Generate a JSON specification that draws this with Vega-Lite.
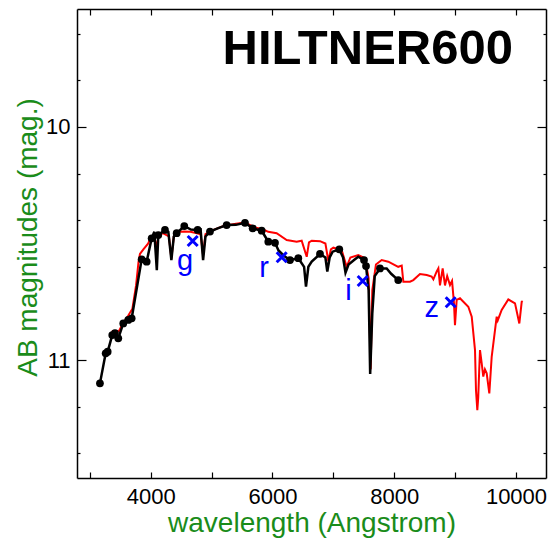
{
  "$schema": "https://vega.github.io/schema/vega-lite/v6.json",
  "width": 469,
  "height": 469,
  "autosize": {"type": "none"},
  "padding": {"left": 77, "top": 9, "right": 6, "bottom": 64},
  "background": "white",
  "title": {
    "text": "HILTNER600",
    "orient": "top",
    "anchor": "end",
    "frame": "group",
    "font": "Liberation Sans",
    "fontSize": 49,
    "fontWeight": "bold",
    "color": "black",
    "baseline": "alphabetic",
    "offset": -56,
    "dx": -33,
    "dy": 49
  },
  "config": {
    "view": {"stroke": null},
    "axis": {
      "labelFont": "Liberation Sans",
      "titleFont": "Liberation Sans",
      "grid": false,
      "domainColor": "black",
      "tickColor": "black",
      "labelColor": "black",
      "domainWidth": 1.5,
      "tickWidth": 1.2,
      "labelFlush": false,
      "labelOverlap": false
    }
  },
  "datasets": {
    "model": [
      {"wavelength": 3360, "mag": 10.875}, {"wavelength": 3420, "mag": 10.88}, {"wavelength": 3480, "mag": 10.875},
      {"wavelength": 3550, "mag": 10.84}, {"wavelength": 3630, "mag": 10.81}, {"wavelength": 3700, "mag": 10.78},
      {"wavelength": 3760, "mag": 10.68}, {"wavelength": 3800, "mag": 10.58}, {"wavelength": 3824, "mag": 10.545},
      {"wavelength": 3880, "mag": 10.525}, {"wavelength": 3960, "mag": 10.5}, {"wavelength": 4000, "mag": 10.475},
      {"wavelength": 4060, "mag": 10.47}, {"wavelength": 4100, "mag": 10.52}, {"wavelength": 4130, "mag": 10.465},
      {"wavelength": 4200, "mag": 10.455}, {"wavelength": 4300, "mag": 10.47}, {"wavelength": 4340, "mag": 10.565},
      {"wavelength": 4380, "mag": 10.47}, {"wavelength": 4450, "mag": 10.45}, {"wavelength": 4550, "mag": 10.448},
      {"wavelength": 4650, "mag": 10.45}, {"wavelength": 4760, "mag": 10.456}, {"wavelength": 4820, "mag": 10.46},
      {"wavelength": 4861, "mag": 10.55}, {"wavelength": 4900, "mag": 10.46}, {"wavelength": 5000, "mag": 10.445},
      {"wavelength": 5200, "mag": 10.425}, {"wavelength": 5400, "mag": 10.415}, {"wavelength": 5550, "mag": 10.41},
      {"wavelength": 5700, "mag": 10.43}, {"wavelength": 5850, "mag": 10.44}, {"wavelength": 5932, "mag": 10.45},
      {"wavelength": 6069, "mag": 10.456}, {"wavelength": 6234, "mag": 10.485}, {"wavelength": 6398, "mag": 10.492},
      {"wavelength": 6480, "mag": 10.488}, {"wavelength": 6563, "mag": 10.557}, {"wavelength": 6600, "mag": 10.495},
      {"wavelength": 6645, "mag": 10.488}, {"wavelength": 6781, "mag": 10.49}, {"wavelength": 6870, "mag": 10.5},
      {"wavelength": 6918, "mag": 10.575}, {"wavelength": 6960, "mag": 10.525}, {"wavelength": 7000, "mag": 10.518},
      {"wavelength": 7137, "mag": 10.528}, {"wavelength": 7219, "mag": 10.6}, {"wavelength": 7280, "mag": 10.56},
      {"wavelength": 7410, "mag": 10.55}, {"wavelength": 7520, "mag": 10.563}, {"wavelength": 7580, "mag": 10.65},
      {"wavelength": 7613, "mag": 11.04}, {"wavelength": 7640, "mag": 10.7}, {"wavelength": 7700, "mag": 10.59},
      {"wavelength": 7794, "mag": 10.571}, {"wavelength": 7903, "mag": 10.578}, {"wavelength": 8066, "mag": 10.6},
      {"wavelength": 8123, "mag": 10.595}, {"wavelength": 8150, "mag": 10.664}, {"wavelength": 8205, "mag": 10.664},
      {"wavelength": 8259, "mag": 10.664}, {"wavelength": 8314, "mag": 10.657}, {"wavelength": 8423, "mag": 10.631},
      {"wavelength": 8534, "mag": 10.635}, {"wavelength": 8615, "mag": 10.642}, {"wavelength": 8643, "mag": 10.654},
      {"wavelength": 8698, "mag": 10.62}, {"wavelength": 8725, "mag": 10.607}, {"wavelength": 8752, "mag": 10.68},
      {"wavelength": 8796, "mag": 10.607}, {"wavelength": 8834, "mag": 10.68}, {"wavelength": 8870, "mag": 10.64},
      {"wavelength": 8916, "mag": 10.678}, {"wavelength": 8950, "mag": 10.66}, {"wavelength": 8982, "mag": 10.757},
      {"wavelength": 8998, "mag": 10.85}, {"wavelength": 9026, "mag": 10.742}, {"wavelength": 9080, "mag": 10.735},
      {"wavelength": 9217, "mag": 10.771}, {"wavelength": 9273, "mag": 10.814}, {"wavelength": 9327, "mag": 10.957},
      {"wavelength": 9343, "mag": 11.129}, {"wavelength": 9365, "mag": 11.215}, {"wavelength": 9380, "mag": 11.16},
      {"wavelength": 9395, "mag": 11.05}, {"wavelength": 9409, "mag": 10.957}, {"wavelength": 9437, "mag": 11.014},
      {"wavelength": 9463, "mag": 11.071}, {"wavelength": 9490, "mag": 11.04}, {"wavelength": 9519, "mag": 11.057},
      {"wavelength": 9562, "mag": 11.143}, {"wavelength": 9601, "mag": 10.986}, {"wavelength": 9683, "mag": 10.814},
      {"wavelength": 9700, "mag": 10.83}, {"wavelength": 9765, "mag": 10.785}, {"wavelength": 9874, "mag": 10.74},
      {"wavelength": 9984, "mag": 10.757}, {"wavelength": 10055, "mag": 10.843}, {"wavelength": 10094, "mag": 10.75},
      {"wavelength": 10110, "mag": 10.747}
    ],
    "observed": [
      {"wavelength": 3167, "mag": 11.1}, {"wavelength": 3261, "mag": 10.971}, {"wavelength": 3294, "mag": 10.964},
      {"wavelength": 3369, "mag": 10.893}, {"wavelength": 3414, "mag": 10.884}, {"wavelength": 3468, "mag": 10.907},
      {"wavelength": 3550, "mag": 10.843}, {"wavelength": 3632, "mag": 10.828}, {"wavelength": 3688, "mag": 10.821},
      {"wavelength": 3852, "mag": 10.568}, {"wavelength": 3934, "mag": 10.578}, {"wavelength": 4016, "mag": 10.478},
      {"wavelength": 4060, "mag": 10.45}, {"wavelength": 4101, "mag": 10.614}, {"wavelength": 4125, "mag": 10.464},
      {"wavelength": 4235, "mag": 10.442}, {"wavelength": 4290, "mag": 10.45}, {"wavelength": 4340, "mag": 10.571},
      {"wavelength": 4380, "mag": 10.47}, {"wavelength": 4427, "mag": 10.456}, {"wavelength": 4552, "mag": 10.425},
      {"wavelength": 4660, "mag": 10.44}, {"wavelength": 4772, "mag": 10.442}, {"wavelength": 4820, "mag": 10.44},
      {"wavelength": 4861, "mag": 10.571}, {"wavelength": 4900, "mag": 10.47}, {"wavelength": 4974, "mag": 10.449},
      {"wavelength": 5100, "mag": 10.435}, {"wavelength": 5248, "mag": 10.421}, {"wavelength": 5400, "mag": 10.42},
      {"wavelength": 5549, "mag": 10.411}, {"wavelength": 5675, "mag": 10.435}, {"wavelength": 5823, "mag": 10.445},
      {"wavelength": 5880, "mag": 10.47}, {"wavelength": 5932, "mag": 10.492}, {"wavelength": 6042, "mag": 10.497},
      {"wavelength": 6100, "mag": 10.53}, {"wavelength": 6200, "mag": 10.555}, {"wavelength": 6288, "mag": 10.571},
      {"wavelength": 6425, "mag": 10.563}, {"wavelength": 6520, "mag": 10.6}, {"wavelength": 6551, "mag": 10.685},
      {"wavelength": 6590, "mag": 10.6}, {"wavelength": 6645, "mag": 10.578}, {"wavelength": 6781, "mag": 10.545},
      {"wavelength": 6870, "mag": 10.56}, {"wavelength": 6901, "mag": 10.62}, {"wavelength": 6940, "mag": 10.56},
      {"wavelength": 6989, "mag": 10.535}, {"wavelength": 7098, "mag": 10.525}, {"wavelength": 7160, "mag": 10.56},
      {"wavelength": 7200, "mag": 10.625}, {"wavelength": 7250, "mag": 10.59}, {"wavelength": 7356, "mag": 10.568},
      {"wavelength": 7410, "mag": 10.557}, {"wavelength": 7504, "mag": 10.571}, {"wavelength": 7537, "mag": 10.597},
      {"wavelength": 7580, "mag": 10.7}, {"wavelength": 7605, "mag": 11.06}, {"wavelength": 7640, "mag": 10.8},
      {"wavelength": 7680, "mag": 10.64}, {"wavelength": 7766, "mag": 10.607}, {"wavelength": 7876, "mag": 10.607},
      {"wavelength": 7950, "mag": 10.63}, {"wavelength": 8066, "mag": 10.657}, {"wavelength": 8095, "mag": 10.655}
    ],
    "bins": [
      {"wavelength": 3167, "mag": 11.1}, {"wavelength": 3261, "mag": 10.971}, {"wavelength": 3294, "mag": 10.964},
      {"wavelength": 3369, "mag": 10.893}, {"wavelength": 3414, "mag": 10.884}, {"wavelength": 3468, "mag": 10.907},
      {"wavelength": 3550, "mag": 10.843}, {"wavelength": 3632, "mag": 10.828}, {"wavelength": 3688, "mag": 10.821},
      {"wavelength": 3852, "mag": 10.568}, {"wavelength": 3934, "mag": 10.578}, {"wavelength": 4016, "mag": 10.478},
      {"wavelength": 4125, "mag": 10.464}, {"wavelength": 4235, "mag": 10.442}, {"wavelength": 4427, "mag": 10.456},
      {"wavelength": 4552, "mag": 10.425}, {"wavelength": 4772, "mag": 10.442}, {"wavelength": 4974, "mag": 10.449},
      {"wavelength": 5248, "mag": 10.421}, {"wavelength": 5549, "mag": 10.411}, {"wavelength": 5675, "mag": 10.435},
      {"wavelength": 5823, "mag": 10.445}, {"wavelength": 5932, "mag": 10.492}, {"wavelength": 6042, "mag": 10.497},
      {"wavelength": 6288, "mag": 10.571}, {"wavelength": 6425, "mag": 10.563}, {"wavelength": 6781, "mag": 10.545},
      {"wavelength": 7098, "mag": 10.525}, {"wavelength": 7504, "mag": 10.571}, {"wavelength": 7537, "mag": 10.597},
      {"wavelength": 7766, "mag": 10.607}, {"wavelength": 8066, "mag": 10.657}
    ],
    "filters": [
      {"band": "g", "wavelength": 4690, "mag": 10.489, "label_wavelength": 4563, "label_mag": 10.614},
      {"band": "r", "wavelength": 6152, "mag": 10.559, "label_wavelength": 5861, "label_mag": 10.642},
      {"band": "i", "wavelength": 7482, "mag": 10.661, "label_wavelength": 7249, "label_mag": 10.742},
      {"band": "z", "wavelength": 8928, "mag": 10.752, "label_wavelength": 8616, "label_mag": 10.814}
    ]
  },
  "resolve": {"axis": {"x": "independent", "y": "independent"}},
  "layer": [
    {
      "data": {"name": "model"},
      "mark": {"type": "line", "color": "#ff0000", "strokeWidth": 2},
      "encoding": {
        "x": {
          "field": "wavelength", "type": "quantitative",
          "scale": {"domain": [2790, 10493], "nice": false, "zero": false},
          "axis": {
            "orient": "bottom", "values": [4000, 6000, 8000, 10000], "format": "d",
            "tickSize": -6, "labelPadding": 14, "labelFontSize": 22,
            "title": "wavelength (Angstrom)", "titleFontSize": 28, "titleColor": "#1a8c1a",
            "titleFontWeight": "normal", "titleBaseline": "alphabetic", "titleY": 53
          }
        },
        "y": {
          "field": "mag", "type": "quantitative",
          "scale": {"domain": [9.494, 11.506], "reverse": true, "nice": false, "zero": false},
          "axis": {
            "orient": "left", "values": [10, 11], "format": "d",
            "tickSize": -9, "labelPadding": 16, "labelFontSize": 22,
            "title": "AB magnitudes (mag.)", "titleFontSize": 28, "titleColor": "#1a8c1a",
            "titleFontWeight": "normal", "titleBaseline": "alphabetic", "titleAngle": 270,
            "titleX": -41, "titleY": 228
          }
        }
      }
    },
    {
      "data": {"name": "observed"},
      "mark": {"type": "line", "color": "black", "strokeWidth": 2.5},
      "encoding": {
        "x": {
          "field": "wavelength", "type": "quantitative",
          "axis": {"orient": "bottom", "values": [3000, 5000, 7000, 9000], "labels": false, "domain": false, "tickSize": -6, "title": null}
        },
        "y": {
          "field": "mag", "type": "quantitative",
          "axis": {"orient": "left", "values": [9.6, 9.8, 10.2, 10.4, 10.6, 10.8, 11.2, 11.4], "labels": false, "domain": false, "tickSize": -3, "title": null}
        }
      }
    },
    {
      "data": {"name": "bins"},
      "mark": {"type": "point", "shape": "circle", "filled": true, "color": "black", "size": 60, "opacity": 1},
      "encoding": {
        "x": {
          "field": "wavelength", "type": "quantitative",
          "axis": {"orient": "top", "values": [4000, 6000, 8000, 10000], "labels": false, "tickSize": -6, "title": null}
        },
        "y": {
          "field": "mag", "type": "quantitative",
          "axis": {"orient": "right", "values": [10, 11], "labels": false, "tickSize": -9, "title": null}
        }
      }
    },
    {
      "data": {"name": "filters"},
      "mark": {"type": "point", "shape": "M-1,-1L1,1M-1,1L1,-1", "filled": false, "color": "#0000ff", "strokeWidth": 3, "size": 100, "opacity": 1},
      "encoding": {
        "x": {
          "field": "wavelength", "type": "quantitative",
          "axis": {"orient": "top", "values": [3000, 5000, 7000, 9000], "labels": false, "domain": false, "tickSize": -6, "title": null}
        },
        "y": {
          "field": "mag", "type": "quantitative",
          "axis": {"orient": "right", "values": [9.6, 9.8, 10.2, 10.4, 10.6, 10.8, 11.2, 11.4], "labels": false, "domain": false, "tickSize": -3, "title": null}
        }
      }
    },
    {
      "data": {"name": "filters"},
      "mark": {"type": "text", "color": "#0000ff", "font": "Liberation Sans", "fontSize": 29, "align": "center", "baseline": "alphabetic"},
      "encoding": {
        "x": {"field": "label_wavelength", "type": "quantitative", "axis": null},
        "y": {"field": "label_mag", "type": "quantitative", "axis": null},
        "text": {"field": "band"}
      }
    }
  ]
}
